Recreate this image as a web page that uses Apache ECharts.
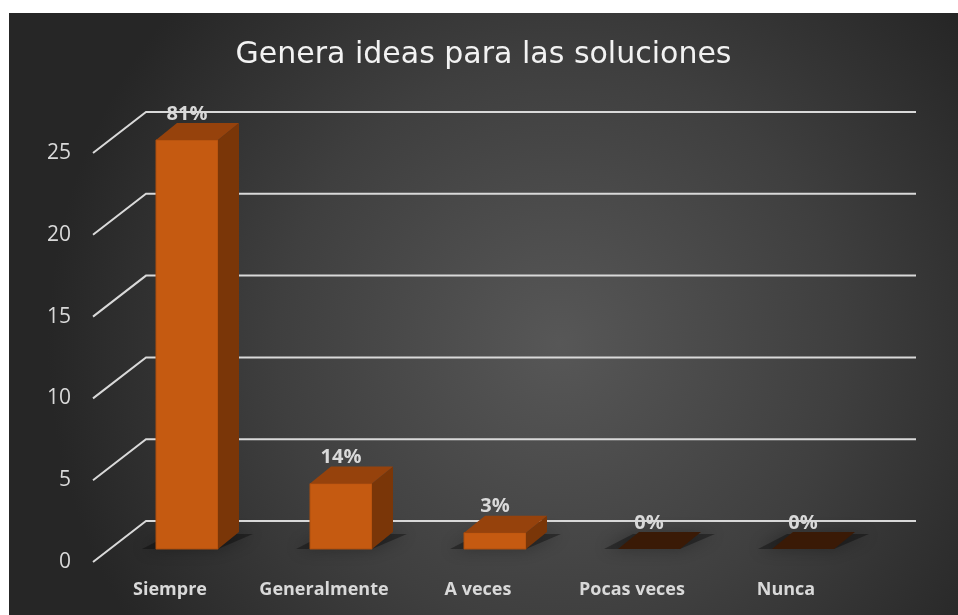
<!DOCTYPE html>
<html>
<head>
<meta charset="utf-8">
<script src="https://cdn.jsdelivr.net/npm/echarts@6/dist/echarts.min.js"></script>
<style>
  html, body { margin: 0; padding: 0; background: #ffffff; }
  #chart { position: absolute; left: 9px; top: 13px; width: 949px; height: 602px; }
</style>
</head>
<body>
<div id="chart"></div>
<script>
const titleText = 'Genera ideas para las soluciones';
const categories = ['Siempre', 'Generalmente', 'A veces', 'Pocas veces', 'Nunca'];
const values = [25, 4, 1, 0, 0];
const pctLabels = ['81%', '14%', '3%', '0%', '0%'];
const yTicks = [0, 5, 10, 15, 20, 25];

const chart = echarts.init(document.getElementById('chart'), null, { renderer: 'canvas' });

const FX = 17, FY = -13;      // bar front face set back into depth
const DX = 21, DY = -17;      // bar depth
const WX = 53, WY = -41;      // wall depth
const BAR_W = 62;

function renderBar(params, api) {
  const i = api.value(0), v = api.value(1);
  const base = api.coord([i, 0]);
  const top = api.coord([i, v]);
  const x0 = base[0] + FX - BAR_W / 2, x1 = x0 + BAR_W;
  const yb = base[1] + FY, yt = top[1] + FY;
  const children = [];
  children.push({
    type: 'polygon',
    shape: { points: [[x0 - 14, yb], [x1, yb], [x1 + DX + 14, yb + DY + 2], [x0 + DX - 6, yb + DY + 2]] },
    style: { fill: 'rgba(0,0,0,0.35)', shadowBlur: 16, shadowColor: 'rgba(0,0,0,0.9)' },
    z2: 0
  });
  if (v > 0) {
    children.push({
      type: 'rect', shape: { x: x0, y: yt, width: BAR_W, height: yb - yt },
      style: { fill: '#C55A11', stroke: '#ad4e0f', lineWidth: 1 }, z2: 2
    });
    children.push({
      type: 'polygon',
      shape: { points: [[x1, yb], [x1 + DX, yb + DY], [x1 + DX, yt + DY], [x1, yt]] },
      style: { fill: '#7A3608' }, z2: 2
    });
    children.push({
      type: 'polygon',
      shape: { points: [[x0, yt], [x1, yt], [x1 + DX, yt + DY], [x0 + DX, yt + DY]] },
      style: { fill: '#96420C' }, z2: 3
    });
  } else {
    children.push({
      type: 'polygon',
      shape: { points: [[x0, yt], [x1, yt], [x1 + DX, yt + DY], [x0 + DX, yt + DY]] },
      style: { fill: '#3A1A06' }, z2: 3
    });
  }
  children.push({
    type: 'text',
    style: {
      x: x0 + BAR_W / 2, y: yt + DY - 9,
      text: pctLabels[i], align: 'center', verticalAlign: 'middle',
      fill: '#D9D9D9', font: 'bold 20px "Open Sans", sans-serif'
    },
    z2: 5
  });
  return { type: 'group', children: children };
}

function renderGrid(params, api) {
  const v = api.value(1);
  const p = api.coord([0, v]);
  const left = params.coordSys.x;
  const right = params.coordSys.x + params.coordSys.width;
  return {
    type: 'polyline',
    shape: { points: [[left, p[1]], [left + WX, p[1] + WY], [right + WX, p[1] + WY]] },
    style: { stroke: '#D9D9D9', lineWidth: 2, fill: null }
  };
}

chart.setOption({
  backgroundColor: {
    type: 'radial', x: 0.58, y: 0.55, r: 0.85,
    colorStops: [
      { offset: 0, color: '#575757' },
      { offset: 0.55, color: '#3f3f3f' },
      { offset: 1, color: '#262626' }
    ]
  },
  animation: false,
  title: {
    text: titleText, left: 'center', top: 22,
    textStyle: { color: '#F2F2F2', fontSize: 30, fontWeight: 'normal', fontFamily: '"DejaVu Sans", sans-serif' }
  },
  grid: { left: 84, right: 95, top: 140, bottom: 53 },
  xAxis: {
    type: 'category', data: categories,
    axisLine: { show: false }, axisTick: { show: false },
    axisLabel: { interval: 0, color: '#D9D9D9', fontSize: 18, fontWeight: 'bold', margin: 19, fontFamily: '"Open Sans", sans-serif' }
  },
  yAxis: {
    type: 'value', min: 0, max: 25, interval: 5,
    axisLine: { show: false }, axisTick: { show: false }, splitLine: { show: false },
    axisLabel: { color: '#D9D9D9', fontSize: 21, margin: 22, fontFamily: '"Open Sans", sans-serif' }
  },
  series: [
    {
      type: 'custom', name: 'grid', z: 1, silent: true,
      data: yTicks.map(v => [0, v]),
      renderItem: renderGrid
    },
    {
      type: 'custom', name: 'bars', z: 3,
      data: values.map((v, i) => [i, v]),
      renderItem: renderBar
    }
  ]
});
</script>
</body>
</html>
